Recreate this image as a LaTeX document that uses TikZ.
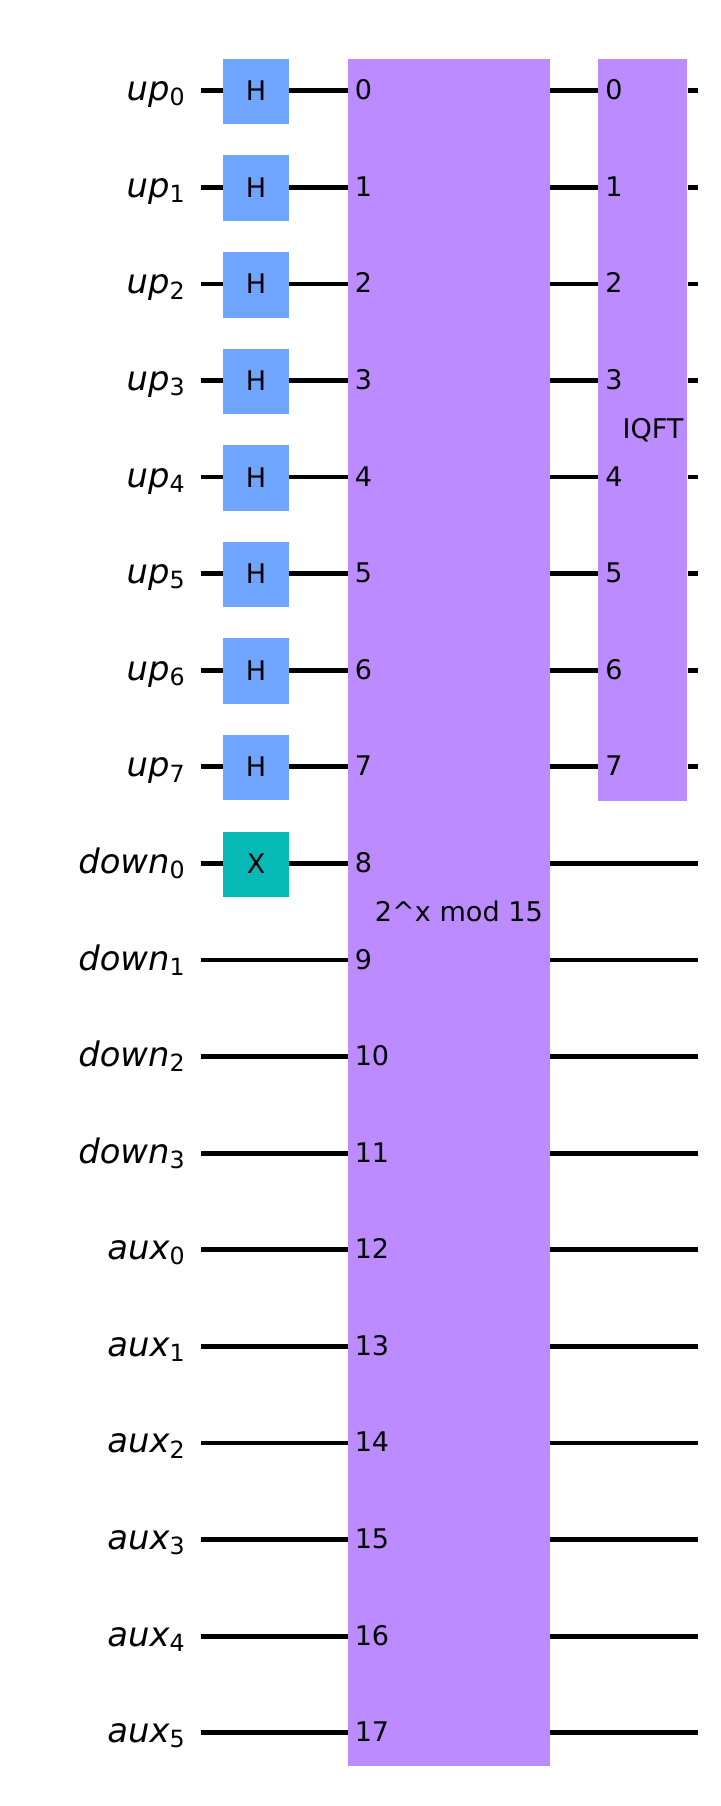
\documentclass[tikz,border=0pt]{standalone}
\usepackage{fontspec}
\setmainfont{DejaVu Sans}
\newcommand{\qreg}[2]{{\fontsize{33.8}{36}\selectfont\itshape #1}\raisebox{-5.2pt}{\fontsize{23.7}{24}\selectfont #2}}
\definecolor{hblue}{HTML}{6FA4FF}
\definecolor{xteal}{HTML}{05BAB6}
\definecolor{blockpurple}{HTML}{BB8BFF}
\tikzset{
	wire/.style={line width=4.7pt,black},
	gatebox/.style={minimum width=65.7pt,minimum height=65.5pt,inner sep=0pt,text height=20pt,text depth=1.8pt,font=\fontsize{27}{30}\selectfont},
	block/.style={fill=blockpurple,inner sep=0pt,anchor=north west},
	pinlabel/.style={anchor=west,inner sep=0pt,text height=20pt,text depth=2pt,outer sep=0pt,font=\fontsize{27}{30}\selectfont},
	blocktext/.style={inner sep=0pt,font=\fontsize{27.1}{30}\selectfont},
	reglabel/.style={anchor=base east,inner sep=0pt}
}
\begin{document}
\begin{tikzpicture}[x=1pt,y=1pt]
		\useasboundingbox (0,0) rectangle (720,-1806);
		\node[block,minimum width=202pt,minimum height=1706.7pt] (oracle) at (347.6,-59) {};
		\node[block,minimum width=89pt,minimum height=741.7pt] (iqft) at (598.2,-59) {};
		\node[blocktext] (oracletext) at (458.9,-911) {2\textasciicircum x mod 15};
		\node[blocktext] (iqfttext) at (653,-430) {IQFT};
		\foreach \i/\regname/\regsub in {0/up/0,1/up/1,2/up/2,3/up/3,4/up/4,5/up/5,6/up/6,7/up/7,8/down/0,9/down/1,10/down/2,11/down/3,12/aux/0,13/aux/1,14/aux/2,15/aux/3,16/aux/4,17/aux/5}{
			\pgfmathsetmacro{\yy}{-90.7-96.59*\i}
			\node[reglabel] (reg\i) at (184.8,\yy-10) {\qreg{\regname}{\regsub}};
			\coordinate (in\i) at (201,\yy);
			\coordinate (out\i) at (698.2,\yy);
			\node[pinlabel] (ora\i) at (347.6,\yy) {\hspace{7.2pt}\i};
		}
		\foreach \i in {0,...,7}{
			\pgfmathsetmacro{\yy}{-90.7-96.59*\i}
			\node[gatebox,fill=hblue] (gate\i) at (256,\yy-0.9) {H};
			\node[pinlabel] (iq\i) at (598.2,\yy) {\hspace{7.2pt}\i};
			\draw[wire] (in\i) -- (in\i -| gate\i.west);
			\draw[wire] (in\i -| gate\i.east) -- (ora\i.west);
			\draw[wire] (ora\i -| oracle.east) -- (iq\i.west);
			\draw[wire] (iq\i -| iqft.east) -- (out\i);
		}
		\node[gatebox,fill=xteal] (gate8) at (256,-864.3) {X};
		\draw[wire] (in8) -- (in8 -| gate8.west);
		\draw[wire] (in8 -| gate8.east) -- (ora8.west);
		\draw[wire] (ora8 -| oracle.east) -- (out8);
		\foreach \i in {9,...,17}{
			\draw[wire] (in\i) -- (ora\i.west);
			\draw[wire] (ora\i -| oracle.east) -- (out\i);
		}
		\end{tikzpicture}
\end{document}
